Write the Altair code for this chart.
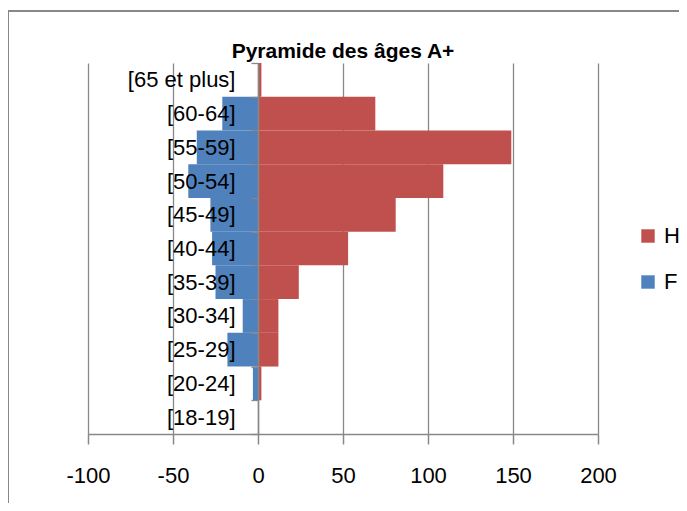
import altair as alt
import pandas as pd

categories = ["[65 et plus]", "[60-64]", "[55-59]", "[50-54]", "[45-49]", "[40-44]",
              "[35-39]", "[30-34]", "[25-29]", "[20-24]", "[18-19]"]
hommes = [2, 69, 149, 109, 81, 53, 24, 12, 12, 2, 0]
femmes = [0, -21, -36, -41, -28, -27, -25, -9, -18, -3, 0]
x_ticks = [-100, -50, 0, 50, 100, 150, 200]
series = ["H", "F"]
colors = ["#C0504D", "#4F81BD"]

rows = []
for c, h, f in zip(categories, hommes, femmes):
    rows.append({"age": c, "sexe": "H", "n": h})
    rows.append({"age": c, "sexe": "F", "n": f})
df = pd.DataFrame(rows)

W, H = 510, 371
FONT = "Liberation Sans, Arial, sans-serif"
GRAY = "#888888"

bars = alt.Chart(df).mark_bar().encode(
    x=alt.X("n:Q",
            scale=alt.Scale(domain=[-100, 200], nice=False, zero=False),
            axis=alt.Axis(values=x_ticks, title=None, grid=True, gridColor=GRAY,
                          gridWidth=1.3, domainColor=GRAY, domainWidth=1.5,
                          tickColor=GRAY, tickWidth=1.5, tickSize=10,
                          labelPadding=21, labelFontSize=22, labelFont=FONT,
                          labelColor="black", labelFlush=False,
                          labelExpr="'' + datum.value")),
    y=alt.Y("age:N", sort=categories,
            scale=alt.Scale(paddingInner=0, paddingOuter=0),
            axis=alt.Axis(title=None, offset=-170, tickBand="extent", tickSize=7,
                          domainColor=GRAY, domainWidth=1.5, tickColor=GRAY,
                          tickWidth=1.3, labelPadding=16, labelFontSize=22,
                          labelFont=FONT, labelColor="black", zindex=1, grid=False)),
    color=alt.Color("sexe:N", scale=alt.Scale(domain=series, range=colors),
                    legend=alt.Legend(title=None, orient="none", legendX=549,
                                      legendY=162, symbolType="square",
                                      symbolSize=180, symbolStrokeWidth=0,
                                      labelFontSize=22, labelFont=FONT,
                                      labelColor="black", rowPadding=24,
                                      labelOffset=5)),
)

one = pd.DataFrame({"k": [0]})
border_top = alt.Chart(one).mark_rule(color=GRAY, strokeWidth=2).encode(
    x=alt.value(-80), x2=alt.value(W + 120), y=alt.value(-52))
border_left = alt.Chart(one).mark_rule(color=GRAY, strokeWidth=2).encode(
    x=alt.value(-80), y=alt.value(-52), y2=alt.value(H + 120))

chart = alt.layer(bars, border_top, border_left).properties(
    width=W, height=H,
    title=alt.TitleParams("Pyramide des âges A+", font=FONT, fontSize=21,
                          fontWeight="bold", color="black", anchor="middle",
                          frame="group", offset=5, dy=74, baseline="alphabetic"),
    autosize=alt.AutoSizeParams(type="none"),
    padding={"left": 80, "top": 55, "right": 81, "bottom": 69},
).configure_view(stroke=None)

chart.save("out.html", embed_options={"renderer": "svg", "actions": False})
